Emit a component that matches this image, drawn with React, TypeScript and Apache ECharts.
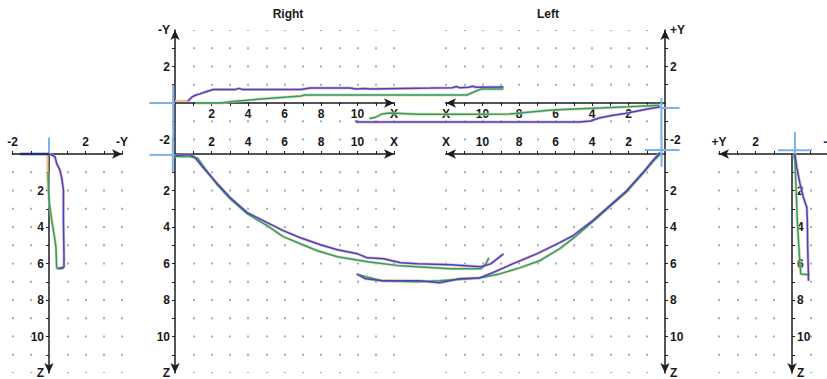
import React, { useEffect, useRef } from 'react';
import * as echarts from 'echarts';

const FONT = '"Liberation Sans", Arial, sans-serif';
const AX = '#1c1c1c';
const DOT = '#9db0c6';
const BLUE = '#4046bc';
const BLUE_HALO = '#e7a6bf';
const GREEN = '#2a9c7e';
const GREEN_HALO = '#d8d27a';
const CURSOR = '#7db1ea';
const S = 18.25; // pixels per unit

// ---- tick values / labels ----
const lengthTicks = [1, 2, 3, 4, 5, 6, 7, 8, 9, 10, 11, 12];
const lengthLabels = [2, 4, 6, 8, 10, 12];
const heightTicks = [-2, -1, 1, 2, 3];
const heightLabels = [-2, 2, 4];
const depthTicks = [1, 2, 3, 4, 5, 6, 7, 8, 9, 10, 11];
const depthLabels = [2, 4, 6, 8, 10, 12];
const profileTicks = [-2, -1, 1, 2, 3, 4];
const profileLabels = [-2, 2, 4];

// ---- traces (units) ----
// Right, top view (X, -Y)
const rightTopBlue = [[0.7,0.1],[0.93,0.33],[1.15,0.44],[1.37,0.5],[1.65,0.6],[2.1,0.74],[3.3,0.74],[3.5,0.8],[3.7,0.74],[6.9,0.74],[7.4,0.82],[9.6,0.82],[9.9,0.77],[10.4,0.8],[10.7,0.77],[14,0.82],[15.2,0.84],[15.4,0.9],[15.6,0.84],[16.1,0.86],[16.3,0.92],[16.5,0.86],[18,0.88]];
const rightTopGreen = [[1.1,0],[2.5,0],[3.3,0.1],[4.7,0.22],[5.8,0.3],[6.9,0.38],[7.1,0.44],[9.6,0.44],[12.4,0.44],[16,0.44],[16.5,0.66],[16.8,0.77],[18,0.77]];
// Left, top view (X, +Y)
const leftTopBlue = [[0.27,-0.22],[0.82,-0.3],[1.65,-0.47],[2.2,-0.58],[3.0,-0.7],[3.6,-0.82],[4.1,-0.99],[4.7,-1.04],[9.1,-1.04],[13.5,-1.04],[16.9,-1.04],[16.95,-0.95]];
const leftTopGreen = [[0.3,-0.12],[2,-0.2],[3.6,-0.27],[6.2,-0.38],[8.5,-0.6],[10,-0.62],[13.5,-0.62],[15.1,-0.55],[15.5,-0.6],[15.9,-0.8],[16.2,-0.85]];
// Right, side view (X, Z)
const rightSideBlue = [[0,0.08],[0.82,0.03],[1.1,0.19],[1.54,0.74],[2.31,1.62],[3.02,2.39],[3.96,3.21],[5.05,3.76],[5.93,4.2],[6.87,4.59],[7.97,4.97],[8.9,5.25],[10.0,5.47],[10.55,5.69],[11.43,5.74],[12.36,5.96],[13.3,6.02],[15.1,6.07],[16.76,6.18],[17.3,6.02],[18.0,5.47]];
const rightSideGreen = [[0,0.14],[0.82,0.14],[1.26,0.25],[1.65,0.8],[2.31,1.68],[3.02,2.45],[3.96,3.27],[5.05,3.93],[5.93,4.53],[6.87,4.92],[7.8,5.3],[8.9,5.63],[10.55,5.9],[12.36,6.13],[15.1,6.29],[16.76,6.29],[17.0,6.07],[17.2,5.69]];
// Left, side view (X, Z)
const leftSideBlue = [[0.27,-0.08],[0.66,0.36],[1.21,1.02],[2.09,2.0],[3.02,2.83],[3.96,3.65],[5.05,4.48],[5.77,4.86],[7.03,5.47],[8.35,6.02],[9.45,6.51],[10.16,6.79],[11.26,6.84],[12.36,7.06],[13.46,6.95],[15.5,6.95],[16.4,6.84],[16.9,6.57]];
const leftSideGreen = [[0.27,0.03],[0.66,0.41],[1.21,1.07],[2.09,2.06],[3.02,2.88],[3.96,3.71],[5.05,4.64],[5.77,5.19],[6.87,5.85],[7.97,6.24],[9.07,6.57],[10.16,6.79],[12.36,6.95],[13.6,7.0],[15.5,6.95],[16.4,6.73],[16.76,6.62]];
// Right, end view (-Y, Z)
const rightEndBlue = [[0.05,0],[0.33,0.15],[0.42,0.51],[0.6,0.88],[0.7,1.34],[0.79,1.98],[0.79,3.63],[0.82,5.46],[0.82,6.19],[0.51,6.28]];
const rightEndGreen = [[-0.05,1.0],[-0.03,2.0],[0.02,2.7],[0.15,3.63],[0.27,4.36],[0.38,5.09],[0.42,6.19],[0.46,6.28],[0.79,6.28]];
// Left, end view (+Y, Z)
const leftEndBlue = [[-0.16,0],[-0.26,0.72],[-0.44,1.64],[-0.62,2.37],[-0.81,2.92],[-0.84,3.65],[-0.86,5.12],[-0.9,6.58],[-0.9,6.95]];
const leftEndGreen = [[-0.1,0],[-0.16,0.36],[-0.22,1.82],[-0.29,3.65],[-0.4,5.48],[-0.48,6.58],[-0.95,6.62]];

// cursor marks (units, per panel)
const cursorRightTop = [[[-1.4,0],[0,0]], [[-0.1,1.0],[-0.1,-2.4]]];
const cursorLeftTop = [[[0.2,-0.27],[-0.8,-0.27]], [[0.2,0.27],[0.2,-2.0]]];
const cursorRightSide = [[[-1.4,0.05],[0,0.05]], [[-0.12,-0.9],[-0.12,1.0]]];
const cursorLeftSide = [[[1.1,-0.22],[-0.8,-0.22]], [[0.19,-0.9],[0.19,0.7]]];
const cursorRightEnd = [[[0,-0.9],[0,0]]];
const cursorLeftEnd = [[[0.77,-0.2],[-1.1,-0.2]], [[-0.16,-1.2],[-0.16,0.25]]];
const orangeRightEnd = [[-0.08,0],[-0.08,1.5]];
const orangeRightTop = [[0,0.12],[0.7,0.12]];
const navyRightEnd = [[-1.6,0],[0,0]];

// panel layout: origin in pixels, axis ranges, axis offsets (px)
const panels = [
  { ox: 175, oy: 103, xMin: 0, xMax: 12, yMin: -51 / S, yMax: 4, invX: false, invY: false, xPos: 'bottom', yPos: 'left', xOff: -51, yOff: 0,
    xTicks: lengthTicks, xLabels: lengthLabels, xEnd: 'X', yTicks: heightTicks, yLabels: heightLabels, yEnd: '-Y' },
  { ox: 175, oy: 154, xMin: 0, xMax: 12, yMin: 0, yMax: 12, invX: false, invY: true, xPos: 'top', yPos: 'left', xOff: 0, yOff: 0,
    xTicks: lengthTicks, xLabels: lengthLabels, xEnd: 'X', yTicks: depthTicks, yLabels: depthLabels, yEnd: 'Z' },
  { ox: 665, oy: 103, xMin: 0, xMax: 12, yMin: -51 / S, yMax: 4, invX: true, invY: false, xPos: 'bottom', yPos: 'right', xOff: -51, yOff: 0,
    xTicks: lengthTicks, xLabels: lengthLabels, xEnd: 'X', yTicks: heightTicks, yLabels: heightLabels, yEnd: '+Y' },
  { ox: 665, oy: 154, xMin: 0, xMax: 12, yMin: 0, yMax: 12, invX: true, invY: true, xPos: 'top', yPos: 'right', xOff: 0, yOff: 0,
    xTicks: lengthTicks, xLabels: lengthLabels, xEnd: 'X', yTicks: depthTicks, yLabels: depthLabels, yEnd: 'Z' },
  { ox: 49, oy: 154, xMin: -2, xMax: 4, yMin: 0, yMax: 12, invX: false, invY: true, xPos: 'top', yPos: 'left', xOff: 0, yOff: -2 * S,
    xTicks: profileTicks, xLabels: profileLabels, xEnd: '-Y', yTicks: depthTicks, yLabels: depthLabels, yEnd: 'Z' },
  { ox: 792, oy: 154, xMin: -2, xMax: 4, yMin: 0, yMax: 12, invX: true, invY: true, xPos: 'top', yPos: 'right', xOff: 0, yOff: -2 * S,
    xTicks: profileTicks, xLabels: profileLabels, xEnd: '+Y', yTicks: depthTicks, yLabels: depthLabels, yEnd: 'Z' },
];

const labelStyle = { color: '#1a1a1a', fontSize: 12, fontWeight: 'bold' as const, fontFamily: FONT };

function rectFor(p: any, xMin: number, xMax: number, yMin: number, yMax: number) {
  return {
    left: p.invX ? p.ox - xMax * S : p.ox + xMin * S,
    top: p.invY ? p.oy + yMin * S : p.oy - yMax * S,
    width: (xMax - xMin) * S,
    height: (yMax - yMin) * S,
  };
}

function buildOption() {
  const grid: any[] = [];
  const xAxis: any[] = [];
  const yAxis: any[] = [];
  const n = panels.length;
  // visible axes
  panels.forEach((p, i) => {
    grid.push({ ...rectFor(p, p.xMin, p.xMax, p.yMin, p.yMax), containLabel: false, outerBoundsMode: 'none', show: false });
    const lineStyle = { color: AX, width: 1.5 };
    xAxis.push({
      type: 'value', gridIndex: i, min: p.xMin, max: p.xMax, inverse: p.invX, position: p.xPos, offset: p.xOff,
      axisLine: { show: true, onZero: false, symbol: p.invX ? ['arrow', 'none'] : ['none', 'arrow'], symbolSize: [7, 10], lineStyle },
      axisTick: { show: true, customValues: p.xTicks, length: 3, lineStyle: { color: AX, width: 1 } },
      axisLabel: { ...labelStyle, customValues: p.xLabels, margin: p.xPos === 'top' ? 6 : 5,
        formatter: (v: number) => (v === p.xMax ? p.xEnd : String(v)) },
      splitLine: { show: true, lineStyle: { color: DOT, width: 2, type: [2, S - 2], dashOffset: 1 } },
    });
    yAxis.push({
      type: 'value', gridIndex: i, min: p.yMin, max: p.yMax, inverse: p.invY, position: p.yPos, offset: p.yOff,
      axisLine: { show: true, onZero: false, symbol: p.invY ? ['arrow', 'none'] : ['none', 'arrow'], symbolSize: [7, 10], lineStyle },
      axisTick: { show: true, customValues: p.yTicks, length: 3, lineStyle: { color: AX, width: 1 } },
      axisLabel: { ...labelStyle, customValues: p.yLabels, margin: 5,
        formatter: (v: number) => (v === p.yMax ? p.yEnd : String(v)) },
      splitLine: { show: false },
    });
  });
  // overlay coordinate systems (same origin & scale, wider range) for the traces
  panels.forEach((p, i) => {
    const ex = [p.xMin - 4, p.xMax + 8];
    const ey = [p.yMin - 4, p.yMax + 4];
    grid.push({ ...rectFor(p, ex[0], ex[1], ey[0], ey[1]), containLabel: false, outerBoundsMode: 'none', show: false });
    xAxis.push({ type: 'value', gridIndex: n + i, min: ex[0], max: ex[1], inverse: p.invX, show: false });
    yAxis.push({ type: 'value', gridIndex: n + i, min: ey[0], max: ey[1], inverse: p.invY, show: false });
  });

  const series: any[] = [];
  const base = (pi: number, data: any, z: number, lineStyle: any) => ({
    type: 'line', xAxisIndex: n + pi, yAxisIndex: n + pi, data, symbol: 'none', showSymbol: false,
    clip: false, silent: true, z, lineStyle, animation: false,
  });
  const trace = (pi: number, data: number[][], color: string, halo: string) => {
    series.push(base(pi, data, 3, { color: halo, width: 3, opacity: 0.75 }));
    series.push(base(pi, data, 4, { color, width: 1.5 }));
  };
  const cursor = (pi: number, segs: number[][][]) => {
    segs.forEach((s) => series.push(base(pi, s, 2, { color: CURSOR, width: 2 })));
  };

  cursor(0, cursorRightTop);
  cursor(2, cursorLeftTop);
  cursor(1, cursorRightSide);
  cursor(3, cursorLeftSide);
  cursor(4, cursorRightEnd);
  cursor(5, cursorLeftEnd);
  series.push(base(4, orangeRightEnd, 2, { color: '#f1b98e', width: 2 }));
  series.push(base(0, orangeRightTop, 2, { color: '#f1b98e', width: 2 }));
  series.push(base(4, navyRightEnd, 2, { color: '#1f2f7a', width: 2.5 }));

  trace(0, rightTopGreen, GREEN, GREEN_HALO);
  trace(0, rightTopBlue, BLUE, BLUE_HALO);
  trace(2, leftTopGreen, GREEN, GREEN_HALO);
  trace(2, leftTopBlue, BLUE, BLUE_HALO);
  trace(1, rightSideGreen, GREEN, GREEN_HALO);
  trace(1, rightSideBlue, BLUE, BLUE_HALO);
  trace(3, leftSideGreen, GREEN, GREEN_HALO);
  trace(3, leftSideBlue, BLUE, BLUE_HALO);
  trace(4, rightEndGreen, GREEN, GREEN_HALO);
  trace(4, rightEndBlue, BLUE, BLUE_HALO);
  trace(5, leftEndGreen, GREEN, GREEN_HALO);
  trace(5, leftEndBlue, BLUE, BLUE_HALO);

  return {
    animation: false,
    backgroundColor: '#ffffff',
    grid, xAxis, yAxis, series,
    graphic: [
      { type: 'text', x: 288, y: 14, style: { text: 'Right', textAlign: 'center', textVerticalAlign: 'middle', fontSize: 12, fontWeight: 'bold', fontFamily: FONT, fill: '#1a1a1a' } },
      { type: 'text', x: 548, y: 14, style: { text: 'Left', textAlign: 'center', textVerticalAlign: 'middle', fontSize: 12, fontWeight: 'bold', fontFamily: FONT, fill: '#1a1a1a' } },
    ],
  };
}

export default function App() {
  const ref = useRef<HTMLDivElement>(null);
  useEffect(() => {
    if (!ref.current) return;
    const chart = echarts.init(ref.current, undefined, { renderer: 'svg' });
    chart.setOption(buildOption() as any);
    return () => chart.dispose();
  }, []);
  return <div ref={ref} style={{ position: 'absolute', left: 0, top: 0, width: 827, height: 379 }} />;
}
